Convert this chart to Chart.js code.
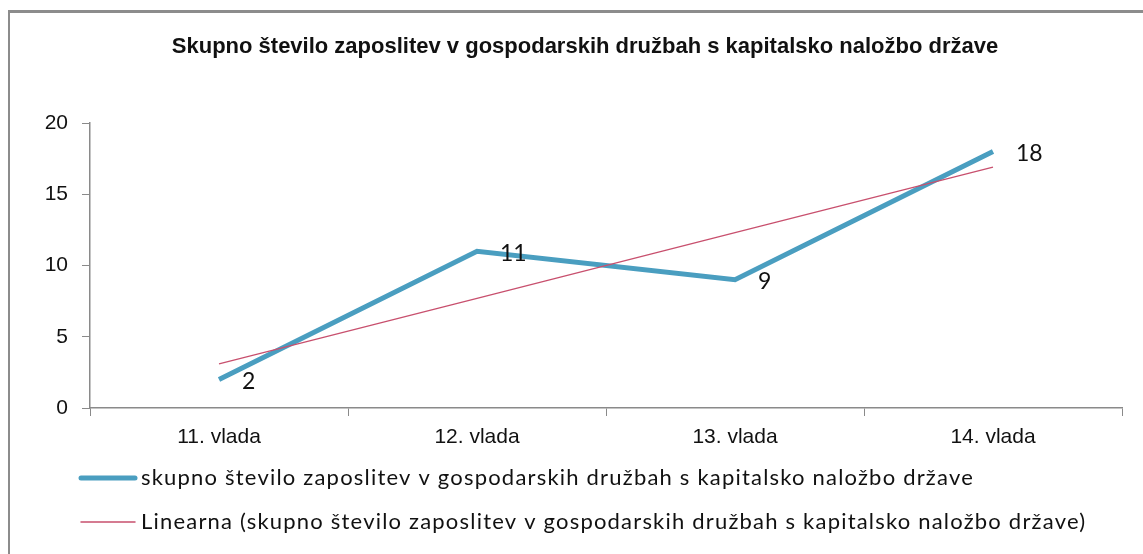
<!DOCTYPE html>
<html>
<head>
<meta charset="utf-8">
<script src="https://cdn.jsdelivr.net/npm/chart.js@4"></script>
<style>
  html, body { margin: 0; padding: 0; background: #fff; }
  #wrap { position: relative; width: 1143px; height: 554px; }
  #frame { position: absolute; left: 8px; top: 10px; right: 0; bottom: 0; border-left: 2px solid #8c8c8c; border-top: 3px solid #8c8c8c; }
</style>
</head>
<body>
<div id="wrap">
  <div id="frame"></div>
  <canvas id="empChart" width="1143" height="554"></canvas>
</div>
<script>
const categories = ["11. vlada", "12. vlada", "13. vlada", "14. vlada"];
const employment = [2, 11, 9, 18];
const trend = [3.1, 7.7, 12.3, 16.9];   // linear trendline as shown
const yTicks = [0, 5, 10, 15, 20];

const seriesLabel = "skupno število zaposlitev v gospodarskih družbah s kapitalsko naložbo države";
const trendLabel = "Linearna (skupno število zaposlitev v gospodarskih družbah s kapitalsko naložbo države)";
const titleText = "Skupno število zaposlitev v gospodarskih družbah s kapitalsko naložbo države";

const BLUE = "#4a9ec0";
const PINK = "#c8506e";
const AXIS = "#8a8a8a";
const TICK_FONT = { family: "'Liberation Sans', Arial, sans-serif", size: 21 };

// title, centred a bit right of the canvas middle like the original
const titleDraw = {
  id: "titleDraw",
  afterDraw(chart) {
    const ctx = chart.ctx;
    ctx.save();
    ctx.font = "bold 22px 'Liberation Sans', Arial, sans-serif";
    ctx.fillStyle = "#111";
    ctx.textAlign = "center";
    ctx.textBaseline = "middle";
    ctx.fillText(titleText, 585, 47);
    ctx.restore();
  }
};

// value labels next to the points
const pointLabels = {
  id: "pointLabels",
  afterDatasetsDraw(chart) {
    const ctx = chart.ctx;
    const meta = chart.getDatasetMeta(0);
    ctx.save();
    ctx.font = "23px Lato, 'Open Sans', sans-serif";
    ctx.fillStyle = "#111";
    ctx.textBaseline = "middle";
    meta.data.forEach((pt, i) => {
      ctx.fillText(String(employment[i]), pt.x + 23, pt.y + 2);
    });
    ctx.restore();
  }
};

// legend rows under the axis, Excel style
const bottomLegend = {
  id: "bottomLegend",
  afterDraw(chart) {
    const ctx = chart.ctx;
    const rows = [
      { text: seriesLabel, color: BLUE, width: 5, y: 478 },
      { text: trendLabel, color: PINK, width: 1.5, y: 522 }
    ];
    ctx.save();
    ctx.font = "22px Lato, 'Open Sans', sans-serif";
    ctx.letterSpacing = "1.2px";
    ctx.textBaseline = "middle";
    rows.forEach(r => {
      ctx.beginPath();
      ctx.strokeStyle = r.color;
      ctx.lineWidth = r.width;
      ctx.lineCap = "round";
      ctx.moveTo(81, r.y);
      ctx.lineTo(135, r.y);
      ctx.stroke();
      ctx.fillStyle = "#111";
      ctx.fillText(r.text, 141, r.y);
    });
    ctx.restore();
  }
};

new Chart(document.getElementById("empChart").getContext("2d"), {
  type: "line",
  data: {
    labels: categories,
    datasets: [
      {
        label: seriesLabel,
        data: employment,
        borderColor: BLUE,
        borderWidth: 5,
        pointRadius: 0,
        tension: 0,
        fill: false,
        order: 2
      },
      {
        label: trendLabel,
        data: trend,
        borderColor: PINK,
        borderWidth: 1.3,
        pointRadius: 0,
        tension: 0,
        fill: false,
        order: 1
      }
    ]
  },
  options: {
    responsive: false,
    animation: false,
    layout: { padding: { left: 8, right: 21, top: 123, bottom: 0 } },
    plugins: {
      legend: { display: false },
      tooltip: { enabled: false },
      title: { display: false }
    },
    scales: {
      x: {
        offset: true,
        grid: { offset: true, drawOnChartArea: false, drawTicks: true, tickLength: 8, color: AXIS },
        border: { color: AXIS, width: 1.5 },
        ticks: { color: "#111", padding: 9, font: TICK_FONT },
        afterFit(scale) { scale.height = 146; }
      },
      y: {
        min: 0,
        max: 20,
        afterBuildTicks(scale) { scale.ticks = yTicks.map(v => ({ value: v })); },
        grid: { drawOnChartArea: false, drawTicks: true, tickLength: 8, color: AXIS },
        border: { color: AXIS, width: 1.5 },
        ticks: { color: "#111", padding: 14, font: TICK_FONT },
        afterFit(scale) { scale.width = 82; }
      }
    }
  },
  plugins: [titleDraw, pointLabels, bottomLegend]
});
</script>
</body>
</html>
